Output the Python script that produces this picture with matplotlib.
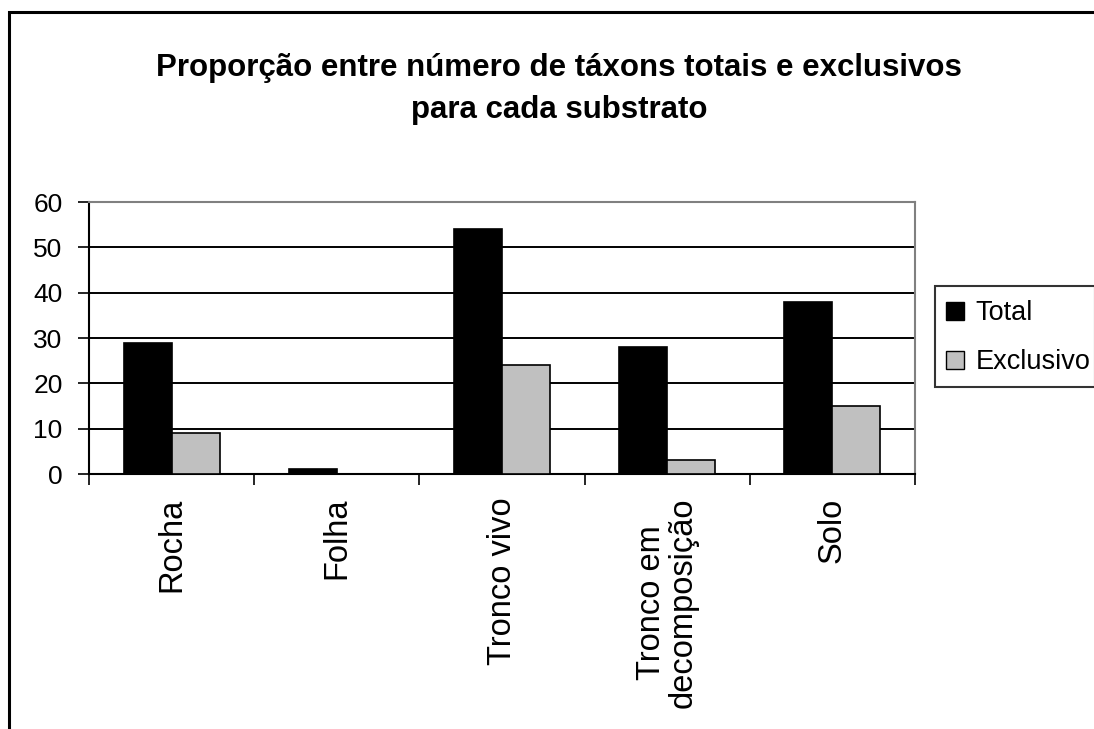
import matplotlib.pyplot as plt
from matplotlib.patches import Rectangle
from matplotlib.lines import Line2D
from matplotlib.markers import MarkerStyle
from matplotlib.transforms import Affine2D
import numpy as np

plt.rcParams['font.family'] = ['Liberation Sans', 'DejaVu Sans']

# Substrates and taxon counts
categories = ['Rocha', 'Folha', 'Tronco vivo', 'Tronco em\ndecomposição', 'Solo']
total = [29, 1, 54, 28, 38]
exclusivo = [9, 0, 24, 3, 15]
series_names = ['Total', 'Exclusivo']
series_colors = ['black', '#c0c0c0']
yticks = [0, 10, 20, 30, 40, 50, 60]

fig = plt.figure(figsize=(10.94, 7.29), dpi=100)

# outer chart frame (runs off the right and bottom edges)
fig.patches.append(Rectangle((9 / 1094, -0.1), 1.2, 1 - 12 / 729 + 0.1,
                             transform=fig.transFigure, fill=False,
                             edgecolor='black', linewidth=2.2))

ax = fig.add_axes([89 / 1094, 1 - 474 / 729, 826 / 1094, 272 / 729])

x = np.arange(len(categories))
w = 0.29
ax.bar(x - w / 2, total, w, color=series_colors[0], edgecolor='black',
       linewidth=1.2, zorder=3)
ax.bar(x + w / 2, exclusivo, w, color=series_colors[1], edgecolor='black',
       linewidth=1.2, zorder=3)

ax.set_xlim(-0.5, len(categories) - 0.5)
ax.set_ylim(0, 60)
ax.set_yticks(yticks)
ax.yaxis.grid(True, color='black', linewidth=1.4, zorder=0)
ax.set_axisbelow(True)

# ticks between categories, labels at centres
ax.set_xticks(np.arange(len(categories) + 1) - 0.5)
ax.set_xticklabels([])
ax.set_xticks(x, minor=True)
ax.set_xticklabels(categories, minor=True, rotation=90, fontsize=23.5,
                   va='top', ha='center', linespacing=1.05)
ax.tick_params(axis='x', which='minor', length=0, pad=17)
ax.tick_params(axis='x', which='major', length=8, width=1.2, direction='out')
ax.tick_params(axis='y', length=8, width=1.2, pad=11, labelsize=19)

for s in ['top', 'right']:
    ax.spines[s].set_color('#808080')
    ax.spines[s].set_linewidth(1.5)
for s in ['left', 'bottom']:
    ax.spines[s].set_color('black')
    ax.spines[s].set_linewidth(1.5)

fig.text(559 / 1094, 1 - 89 / 729,
         'Proporção entre número de táxons totais e exclusivos\npara cada substrato',
         ha='center', va='center', fontsize=22.5, fontweight='bold',
         linespacing=1.5)

# square markers so the row height can be set apart from the swatch size;
# nudged down to sit level with the label text
square = MarkerStyle('s', transform=Affine2D().translate(0, -0.35))
handles = [Line2D([], [], linestyle='none', marker=square, markersize=12.5,
                  markerfacecolor=c, markeredgecolor='black',
                  markeredgewidth=1.0) for c in series_colors]
leg = fig.legend(handles, series_names, loc='upper left',
                 bbox_to_anchor=(935 / 1094, 1 - 286 / 729), fontsize=19.5,
                 frameon=True, fancybox=False, edgecolor='black',
                 handlelength=1.15, handleheight=2.1, handletextpad=0.2,
                 borderpad=0.15, labelspacing=0.2, borderaxespad=0)
leg.get_frame().set_linewidth(1.5)

fig.savefig('out.png', dpi=100)
